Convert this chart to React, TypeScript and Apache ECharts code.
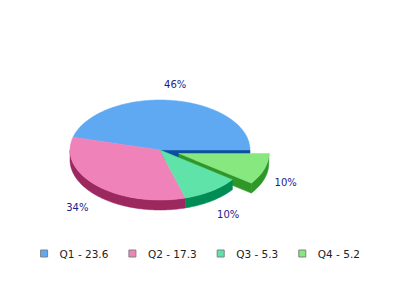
import React, { useEffect, useRef } from "react";
import * as echarts from "echarts";

const categories = ["Q1", "Q2", "Q3", "Q4"];
const values = [23.6, 17.3, 5.3, 5.2];
const explodedIndex = 3;

const topColors = ["#5FA8F2", "#F082BA", "#5FE3A8", "#86E87E"];
const sideColors = ["#0B4E9E", "#9B285F", "#008C55", "#2F9628"];

const CX = 160;
const CY = 150;
const RX = 90;
const RY = 50;
const DEPTH = 10;
const EXPLODE = 0.22;
const FONT = "DejaVu Sans";

const rad = (d: number) => (d * Math.PI) / 180;

function sliceGeom(i: number) {
  const total = values.reduce((a, b) => a + b, 0);
  let before = 0;
  for (let k = 0; k < i; k++) before += values[k];
  const a0 = (before / total) * 360;
  const a1 = ((before + values[i]) / total) * 360;
  const mid = (a0 + a1) / 2;
  const e = i === explodedIndex ? EXPLODE : 0;
  const cx = CX + e * RX * Math.cos(rad(mid));
  const cy = CY - e * RY * Math.sin(rad(mid));
  return { a0, a1, mid, cx, cy, pct: Math.round((values[i] / total) * 100) };
}

function makeRenderItem(i: number) {
  return (_params: any, _api: any) => {
    const g = sliceGeom(i);
    const { a0, a1, mid, cx, cy } = g;
    const pt = (a: number, dz = 0) => [cx + RX * Math.cos(rad(a)), cy - RY * Math.sin(rad(a)) + dz];
    const arc = (s: number, e: number, dz = 0) => {
      const pts: number[][] = [];
      const n = Math.max(2, Math.ceil(Math.abs(e - s)));
      for (let k = 0; k <= n; k++) pts.push(pt(s + ((e - s) * k) / n, dz));
      return pts;
    };
    const children: any[] = [];
    const meanY = (pts: number[][]) => pts.reduce((s, p) => s + p[1], 0) / pts.length;
    const side = (pts: number[][]) => {
      children.push({
        type: "polygon",
        z2: 10 + meanY(pts) / 1000,
        shape: { points: pts },
        style: { fill: sideColors[i], stroke: sideColors[i], lineWidth: 0.5 },
      });
    };
    // outer wall (front half only)
    const w0 = Math.max(a0, 180);
    const w1 = Math.min(a1, 360);
    if (w1 > w0) {
      side([...arc(w0, w1), ...arc(w1, w0, DEPTH)]);
    }
    const n = values.length;
    const prev = (i - 1 + n) % n;
    const next = (i + 1) % n;
    const faceStart = i === explodedIndex || prev === explodedIndex;
    const faceEnd = i === explodedIndex || next === explodedIndex;
    if (faceStart && Math.cos(rad(a0)) > 0.0001) {
      side([[cx, cy], pt(a0), pt(a0, DEPTH), [cx, cy + DEPTH]]);
    }
    if (faceEnd && Math.cos(rad(a1)) < -0.0001) {
      side([[cx, cy], pt(a1), pt(a1, DEPTH), [cx, cy + DEPTH]]);
    }
    // top
    children.push({
      type: "polygon",
      z2: 100,
      shape: { points: [[cx, cy], ...arc(a0, a1)] },
      style: { fill: topColors[i], stroke: topColors[i], lineWidth: 0.5 },
    });
    // label
    const k = i === explodedIndex ? 1.25 : 1.32;
    const s = Math.sin(rad(mid));
    children.push({
      type: "text",
      z2: 200,
      x: cx + k * RX * Math.cos(rad(mid)),
      y: cy - k * RY * s + (s < 0 ? DEPTH : 0),
      style: {
        text: g.pct + "%",
        fill: "#1C1C8C",
        fontSize: 10,
        fontFamily: FONT,
        fontStyle: "normal",
        fontWeight: "normal",
        align: "center",
        verticalAlign: "middle",
      },
    });
    return { type: "group", children };
  };
}

export default function App() {
  const ref = useRef<HTMLDivElement>(null);
  useEffect(() => {
    document.body.style.margin = "0";
    if (!ref.current) return;
    const chart = echarts.init(ref.current, undefined, { renderer: "svg" });
    const names = categories.map((c, i) => `${c} - ${values[i]}`);
    chart.setOption({
      animation: false,
      backgroundColor: "#ffffff",
      legend: {
        data: names,
        left: "center",
        top: 243,
        icon: "rect",
        itemWidth: 7,
        itemHeight: 7,
        itemGap: 20,
        itemStyle: { borderColor: "#808080", borderWidth: 1 },
        textStyle: {
          fontFamily: FONT,
          fontSize: 10.5,
          color: "#222222",
          padding: [0, 0, 0, 7],
        },
        selectedMode: false,
      },
      series: categories.map((_, i) => ({
        type: "custom",
        name: names[i],
        coordinateSystem: "none",
        itemStyle: { color: topColors[i] },
        data: [values[i]],
        renderItem: makeRenderItem(i),
      })),
    });
    return () => chart.dispose();
  }, []);
  return <div ref={ref} style={{ width: 400, height: 300 }} />;
}
